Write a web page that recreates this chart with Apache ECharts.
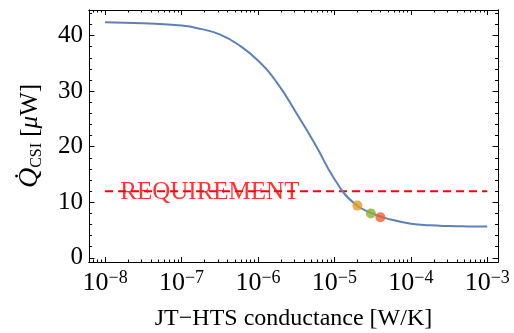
<!DOCTYPE html>
<html><head><meta charset="utf-8">
<script src="https://cdn.jsdelivr.net/npm/echarts@6/dist/echarts.min.js"></script>
<style>html,body{margin:0;padding:0;background:#fff}#c{width:514px;height:333px}</style>
</head><body><div id="c"></div>
<script>
// ---- data ----
const conductance = [1e-8, 3.16e-8, 1e-7, 1.78e-7, 3.16e-7, 5.62e-7, 1e-6, 1.78e-6, 3.16e-6, 5.62e-6, 1e-5, 1.78e-5, 3.16e-5, 5.62e-5, 1e-4, 1.78e-4, 3.16e-4, 5.62e-4, 1e-3];
const heatLoad = [42.4, 42.2, 41.8, 41.2, 40.2, 38.3, 35.5, 31.5, 26.1, 20.4, 14.2, 9.9, 7.95, 6.85, 6.15, 5.85, 5.72, 5.66, 5.63];
const pointConductance = [2e-5, 3e-5, 4e-5];
const pointHeat = [9.4, 8.0, 7.3];
const pointColors = ['#e19c24', '#8fb032', '#eb6235'];
const requirement = 12;
const requirementRange = [1e-8, 1e-3];
const requirementText = 'REQUIREMENT';
const requirementTextAt = 2.35e-7;
const xTickExponents = [-8, -7, -6, -5, -4, -3];
const yTicks = [0, 10, 20, 30, 40];
const xTitle = 'JT\u2212HTS conductance [W/K]';

// ---- layout ----
const L = Math.log10;
const xMin = -8.21, xMax = -2.86, yMin = -0.75, yMax = 44.6;
const FONT = 'Liberation Serif';
const minorX = [];
for (let e = -9; e <= -3; e++) for (let k = 2; k <= 9; k++) { const v = e + L(k); if (v > xMin && v < xMax) minorX.push(v); }
const minorY = [];
for (let v = 2; v <= 44; v += 2) if (v % 10) minorY.push(v);

const gridRect = { left: 89, right: 16, top: 10, bottom: 71, containLabel: false, outerBoundsMode: 'none' };
const black = { color: '#000', width: 1 };

function xa(grid, pos, ticks, len, labels) {
  const a = {
    type: 'value', gridIndex: grid, position: pos, min: xMin, max: xMax,
    axisLine: { show: true, onZero: false, lineStyle: black },
    axisTick: { show: true, inside: true, length: len, customValues: ticks, lineStyle: black },
    axisLabel: { show: false }, splitLine: { show: false }
  };
  if (labels) {
    a.axisLabel = {
      show: true, customValues: xTickExponents, margin: 7,
      formatter: v => '{b|10}{s|\u2212' + Math.round(-v) + '}',
      rich: {
        b: { fontFamily: FONT, fontSize: 26, color: '#000', lineHeight: 28 },
        s: { fontFamily: FONT, fontSize: 18, color: '#000', lineHeight: 18, verticalAlign: 'top' }
      }
    };
    a.name = xTitle; a.nameLocation = 'middle'; a.nameGap = 45;
    a.nameTextStyle = { fontFamily: FONT, fontSize: 24, color: '#000' };
  }
  return a;
}
function ya(grid, pos, ticks, len, labels) {
  const a = {
    type: 'value', gridIndex: grid, position: pos, min: yMin, max: yMax,
    axisLine: { show: true, onZero: false, lineStyle: black },
    axisTick: { show: true, inside: true, length: len, customValues: ticks, lineStyle: black },
    axisLabel: { show: false }, splitLine: { show: false }
  };
  if (labels) {
    a.axisLabel = { show: true, customValues: yTicks, margin: 6, fontFamily: FONT, fontSize: 25, color: '#000' };
    a.name = '{q|Q\u0307}{s|CSI}{n| [}{m|\u03bc}{n|W]}';
    a.nameLocation = 'middle'; a.nameRotate = 90; a.nameGap = 44;
    a.nameTextStyle = {
      rich: {
        q: { fontFamily: FONT, fontStyle: 'italic', fontSize: 28, color: '#000', lineHeight: 30 },
        s: { fontFamily: FONT, fontSize: 16, color: '#000', lineHeight: 16, verticalAlign: 'bottom' },
        n: { fontFamily: FONT, fontSize: 25, color: '#000', lineHeight: 30 },
        m: { fontFamily: FONT, fontStyle: 'italic', fontSize: 25, color: '#000', lineHeight: 30 }
      }
    };
  }
  return a;
}

const option = {
  backgroundColor: '#ffffff',
  animation: false,
  grid: [Object.assign({}, gridRect), Object.assign({}, gridRect)],
  xAxis: [
    xa(0, 'bottom', xTickExponents, 5, true),
    xa(0, 'top', xTickExponents, 5, false),
    xa(1, 'bottom', minorX, 2.5, false),
    xa(1, 'top', minorX, 2.5, false)
  ],
  yAxis: [
    ya(0, 'left', yTicks, 5.5, true),
    ya(0, 'right', yTicks, 5.5, false),
    ya(1, 'left', minorY, 3, false),
    ya(1, 'right', minorY, 3, false)
  ],
  series: [
    {
      type: 'line', xAxisIndex: 0, yAxisIndex: 0, symbol: 'none',
      data: requirementRange.map(c => [L(c), requirement]),
      lineStyle: { color: '#ff0000', width: 2, type: [8, 5] }, z: 3
    },
    {
      type: 'scatter', xAxisIndex: 0, yAxisIndex: 0, symbolSize: 0,
      data: [[L(requirementTextAt), requirement]],
      label: { show: true, position: 'inside', formatter: requirementText, fontFamily: FONT, fontSize: 25, color: '#ff0000', offset: [0, 1] },
      z: 4
    },
    {
      type: 'line', xAxisIndex: 0, yAxisIndex: 0, symbol: 'none', smooth: 0.5,
      data: conductance.map((c, i) => [L(c), heatLoad[i]]),
      lineStyle: { color: '#5e81b5', width: 2 }, z: 5
    },
    {
      type: 'scatter', xAxisIndex: 0, yAxisIndex: 0, symbolSize: 10,
      data: pointConductance.map((c, i) => ({ value: [L(c), pointHeat[i]], itemStyle: { color: pointColors[i] } })),
      z: 6
    }
  ]
};
const chart = echarts.init(document.getElementById('c'), null, { renderer: 'canvas' });
chart.setOption(option);
</script></body></html>
